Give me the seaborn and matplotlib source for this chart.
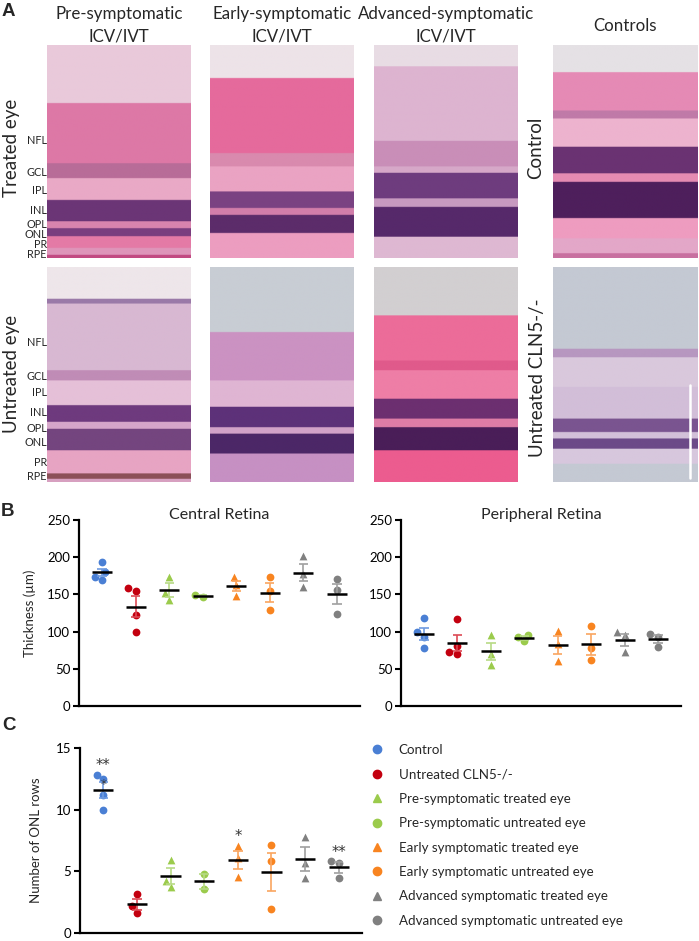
import numpy as np
import pandas as pd
import matplotlib
matplotlib.use("Agg")
import matplotlib.pyplot as plt
import seaborn as sns
from matplotlib.colors import to_rgb
from matplotlib.lines import Line2D

# ---------------- data ----------------
groups = ["Control", "Untreated CLN5-/-", "Pre-symptomatic treated eye",
          "Pre-symptomatic untreated eye", "Early symptomatic treated eye",
          "Early symptomatic untreated eye", "Advanced symptomatic treated eye",
          "Advanced symptomatic untreated eye"]
markers = ["o", "o", "^", "o", "^", "o", "^", "o"]
colors = ["#4A7FD4", "#C3000F", "#9BCB4C", "#9BCB4C",
          "#F88420", "#F88420", "#808080", "#808080"]
err_colors = ["#6F9BE0", "#DD4A55", "#B7DA85", "#B7DA85",
              "#FAA560", "#FAA560", "#A0A0A0", "#A0A0A0"]

central = [[194, 180, 170, 174], [154, 158, 122, 99], [173, 143, 152], [147, 149],
           [173, 148, 163], [173, 155, 129], [201, 177, 160], [171, 156, 124]]
peripheral = [[118, 99, 93, 78], [117, 81, 70, 72], [95, 70, 55], [87, 96, 93],
              [101, 84, 61], [108, 78, 62], [99, 95, 72], [97, 93, 79]]
onl_rows = [[12.45, 12.85, 11.2, 10.0], [3.2, 1.65, 2.15], [5.95, 3.7, 4.2], [4.8, 3.6],
            [7.05, 6.05, 4.55], [7.1, 5.8, 1.95], [7.8, 5.65, 4.5], [5.8, 5.7, 4.45]]
onl_stars = {0: "**", 4: "*", 7: "**"}

col_titles = [["Pre-symptomatic", "ICV/IVT"], ["Early-symptomatic", "ICV/IVT"],
              ["Advanced-symptomatic", "ICV/IVT"], ["Controls"]]
layer_names = ["NFL", "GCL", "IPL", "INL", "OPL", "ONL", "PR", "RPE"]

# stylised histology layer bands: (end fraction, colour)
histo = {
    (0, 0): [(0.273, "#E9C9DA"), (0.555, "#DD78A6"), (0.625, "#B86C98"), (0.727, "#E9A9C6"),
             (0.828, "#6B3576"), (0.86, "#D884AE"), (0.898, "#7A3E7F"), (0.953, "#E47AA6"),
             (0.985, "#DE95BA"), (1.0, "#C24A82")],
    (0, 1): [(0.156, "#EDE3E8"), (0.508, "#E56A9C"), (0.57, "#D98AAE"), (0.688, "#EAA3C3"),
             (0.766, "#7A4282"), (0.797, "#D27EAA"), (0.883, "#5C2C6A"), (1.0, "#EC9DC0")],
    (0, 2): [(0.10, "#E8DCE4"), (0.45, "#DDB4D0"), (0.57, "#C98EB8"), (0.60, "#D6A8C8"),
             (0.72, "#6E3C7E"), (0.76, "#C79AC0"), (0.90, "#56296A"), (1.0, "#DEB8D2")],
    (0, 3): [(0.128, "#E5E1E5"), (0.307, "#E58AB5"), (0.346, "#C07AA8"), (0.478, "#EDB3CE"),
             (0.603, "#6A3272"), (0.642, "#E58BB2"), (0.813, "#4E1F5C"), (0.907, "#EE9CC0"),
             (0.977, "#E3A7C8"), (1.0, "#C870A0")],
    (1, 0): [(0.147, "#EEE6EA"), (0.171, "#9A7AA8"), (0.481, "#D8B8D2"), (0.527, "#C08CB6"),
             (0.643, "#E5C0D8"), (0.721, "#6E3A7E"), (0.752, "#D6A6CA"), (0.853, "#74457F"),
             (0.961, "#E7A4C3"), (0.984, "#8C5058"), (1.0, "#D7A0C0")],
    (1, 1): [(0.302, "#C8CDD4"), (0.527, "#CB92C2"), (0.651, "#DFB5D3"), (0.744, "#5D3179"),
             (0.775, "#D2A2C8"), (0.868, "#4C2767"), (1.0, "#C690C3")],
    (1, 2): [(0.225, "#D2CFD1"), (0.434, "#EC6C99"), (0.481, "#E05A8B"), (0.612, "#EE7EA6"),
             (0.705, "#6C2F70"), (0.744, "#DE7DA6"), (0.853, "#4A1E58"), (1.0, "#EC5C8F")],
    (1, 3): [(0.38, "#C4C9D3"), (0.419, "#B797C0"), (0.558, "#D9C8DC"), (0.705, "#D2BED8"),
             (0.767, "#7A5490"), (0.798, "#D3C0D9"), (0.845, "#6C4A88"), (0.915, "#D7C7DD"),
             (1.0, "#C4C9D3")],
}

# ---------------- style ----------------
sns.set_theme(style="ticks")
plt.rcParams["font.family"] = ["Lato", "DejaVu Sans"]
plt.rcParams["axes.edgecolor"] = "black"

W, H = 699, 941
fig = plt.figure(figsize=(W / 100, H / 100), dpi=100)


def fx(x):
    return x / W


def fy(y):
    return 1 - y / H


# ---------------- panel A ----------------
col_x = [(47, 191), (210, 354), (374, 518), (553, 698)]
row_y = [(45, 258), (267, 482)]
for (r, c), bands in histo.items():
    x0, x1 = col_x[c]
    y0, y1 = row_y[r]
    ax = fig.add_axes([fx(x0), fy(y1), fx(x1 - x0), (y1 - y0) / H])
    n = 400
    img = np.zeros((n, 1, 3))
    start = 0
    for end, colr in bands:
        e = int(round(end * n))
        img[start:e, 0, :] = to_rgb(colr)
        start = e
    ax.imshow(img, aspect="auto", interpolation="bilinear")
    ax.set_axis_off()
    if (r, c) == (1, 3):
        # white scale bar
        ax.plot([0.945, 0.945], [0.02, 0.45], color="white", lw=1.8,
                transform=ax.transAxes)
        ax.set_xlim(-0.5, 0.5)
        ax.set_ylim(n - 0.5, -0.5)

for c, lines in enumerate(col_titles):
    cx = (col_x[c][0] + col_x[c][1]) / 2
    if len(lines) == 2:
        fig.text(fx(cx), fy(19), lines[0], ha="center", va="baseline", fontsize=12.2)
        fig.text(fx(cx), fy(42), lines[1], ha="center", va="baseline", fontsize=12.2)
    else:
        fig.text(fx(cx), fy(31), lines[0], ha="center", va="baseline", fontsize=12.2)

fig.text(fx(11.5), fy(148), "Treated eye", rotation=90, ha="center", va="center", fontsize=13.5)
fig.text(fx(11.5), fy(374), "Untreated eye", rotation=90, ha="center", va="center", fontsize=13.5)
fig.text(fx(536), fy(148), "Control", rotation=90, ha="center", va="center", fontsize=13.5)
fig.text(fx(538), fy(378), "Untreated CLN5-/-", rotation=90, ha="center", va="center", fontsize=13.5)

top_lab_y = [140, 173, 190, 211, 225, 235, 245, 255]
bot_lab_y = [343, 376, 393, 413, 428, 443, 463, 477]
for name, ty, by in zip(layer_names, top_lab_y, bot_lab_y):
    fig.text(fx(47), fy(ty), name, ha="right", va="center", fontsize=7.8)
    fig.text(fx(47), fy(by), name, ha="right", va="center", fontsize=7.8)

for letter, (lx, ly) in {"A": (8, 12), "B": (8, 512), "C": (9, 725)}.items():
    fig.text(fx(lx), fy(ly), letter, ha="center", va="center", fontsize=13.5,
             fontweight="bold", family="Liberation Sans")


# ---------------- panels B, C ----------------
def scatter_panel(ax, values, ylim, yticks):
    rows = [(g, v) for g, vals in zip(groups, values) for v in vals]
    df = pd.DataFrame(rows, columns=["group", "value"])
    for i, g in enumerate(groups):
        sub = df[df["group"] == g]
        sns.swarmplot(data=sub, x="group", y="value", order=groups, color=colors[i],
                      marker=markers[i], size=5.6, linewidth=0, ax=ax, zorder=2,
                      legend=False)
    stats = df.groupby("group", sort=False)["value"].agg(["mean", "sem", "max"])
    for i, g in enumerate(groups):
        m, s = stats.loc[g, "mean"], stats.loc[g, "sem"]
        ax.vlines(i, m - s, m + s, color=err_colors[i], lw=1.2, zorder=2.5)
        ax.hlines([m - s, m + s], i - 0.14, i + 0.14, color=err_colors[i], lw=1.2, zorder=2.5)
        ax.hlines(m, i - 0.3, i + 0.3, color="black", lw=1.8, zorder=3)
    ax.set_xlim(-0.69, 7.69)
    ax.set_ylim(*ylim)
    ax.set_yticks(yticks)
    ax.set_xticks([])
    ax.set_xlabel("")
    ax.set_ylabel("")
    sns.despine(ax=ax)
    for sp in ("left", "bottom"):
        ax.spines[sp].set_linewidth(1.6)
    ax.tick_params(axis="y", length=4.3, width=1.5, labelsize=9.5, pad=2, colors="black")
    ax.patch.set_alpha(0)
    return stats


axc = fig.add_axes([fx(79), fy(706), fx(360 - 79), (706 - 520) / H])
scatter_panel(axc, central, (0, 250), [0, 50, 100, 150, 200, 250])
axc.set_ylabel("Thickness (µm)", fontsize=9.5)
axc.yaxis.set_label_coords(-0.153, 0.5)
axc.text(0.5, 1.006, "Central Retina", transform=axc.transAxes, ha="center",
         va="baseline", fontsize=11.5)

axp = fig.add_axes([fx(401), fy(706), fx(681 - 401), (706 - 520) / H])
scatter_panel(axp, peripheral, (0, 250), [0, 50, 100, 150, 200, 250])
axp.text(0.5, 1.006, "Peripheral Retina", transform=axp.transAxes, ha="center",
         va="baseline", fontsize=11.5)

axo = fig.add_axes([fx(80), fy(933), fx(362 - 80), (933 - 748) / H])
st = scatter_panel(axo, onl_rows, (0, 15), [0, 5, 10, 15])
axo.set_ylabel("Number of ONL rows", fontsize=9.5)
axo.yaxis.set_label_coords(-0.135, 0.5)
for i, txt in onl_stars.items():
    axo.text(i, st.loc[groups[i], "max"] + 0.75, txt, ha="center", va="center",
             fontsize=10.5, color="#333333", family="DejaVu Sans")
axo.text(0, st.loc[groups[0], "mean"] + 0.45, "*", ha="center", va="center",
         fontsize=8.5, color="#333333", zorder=4, family="DejaVu Sans")

# legend
handles = [Line2D([], [], linestyle="none", marker=m, color=c, markersize=6)
           for m, c in zip(markers, colors)]
fig.legend(handles, groups, loc="upper left", bbox_to_anchor=(fx(370), fy(744)),
           frameon=False, fontsize=9.6, handlelength=1.0, handletextpad=1.15,
           labelspacing=0.93, borderpad=0, borderaxespad=0)

fig.savefig("out.png", dpi=100, facecolor="white")
